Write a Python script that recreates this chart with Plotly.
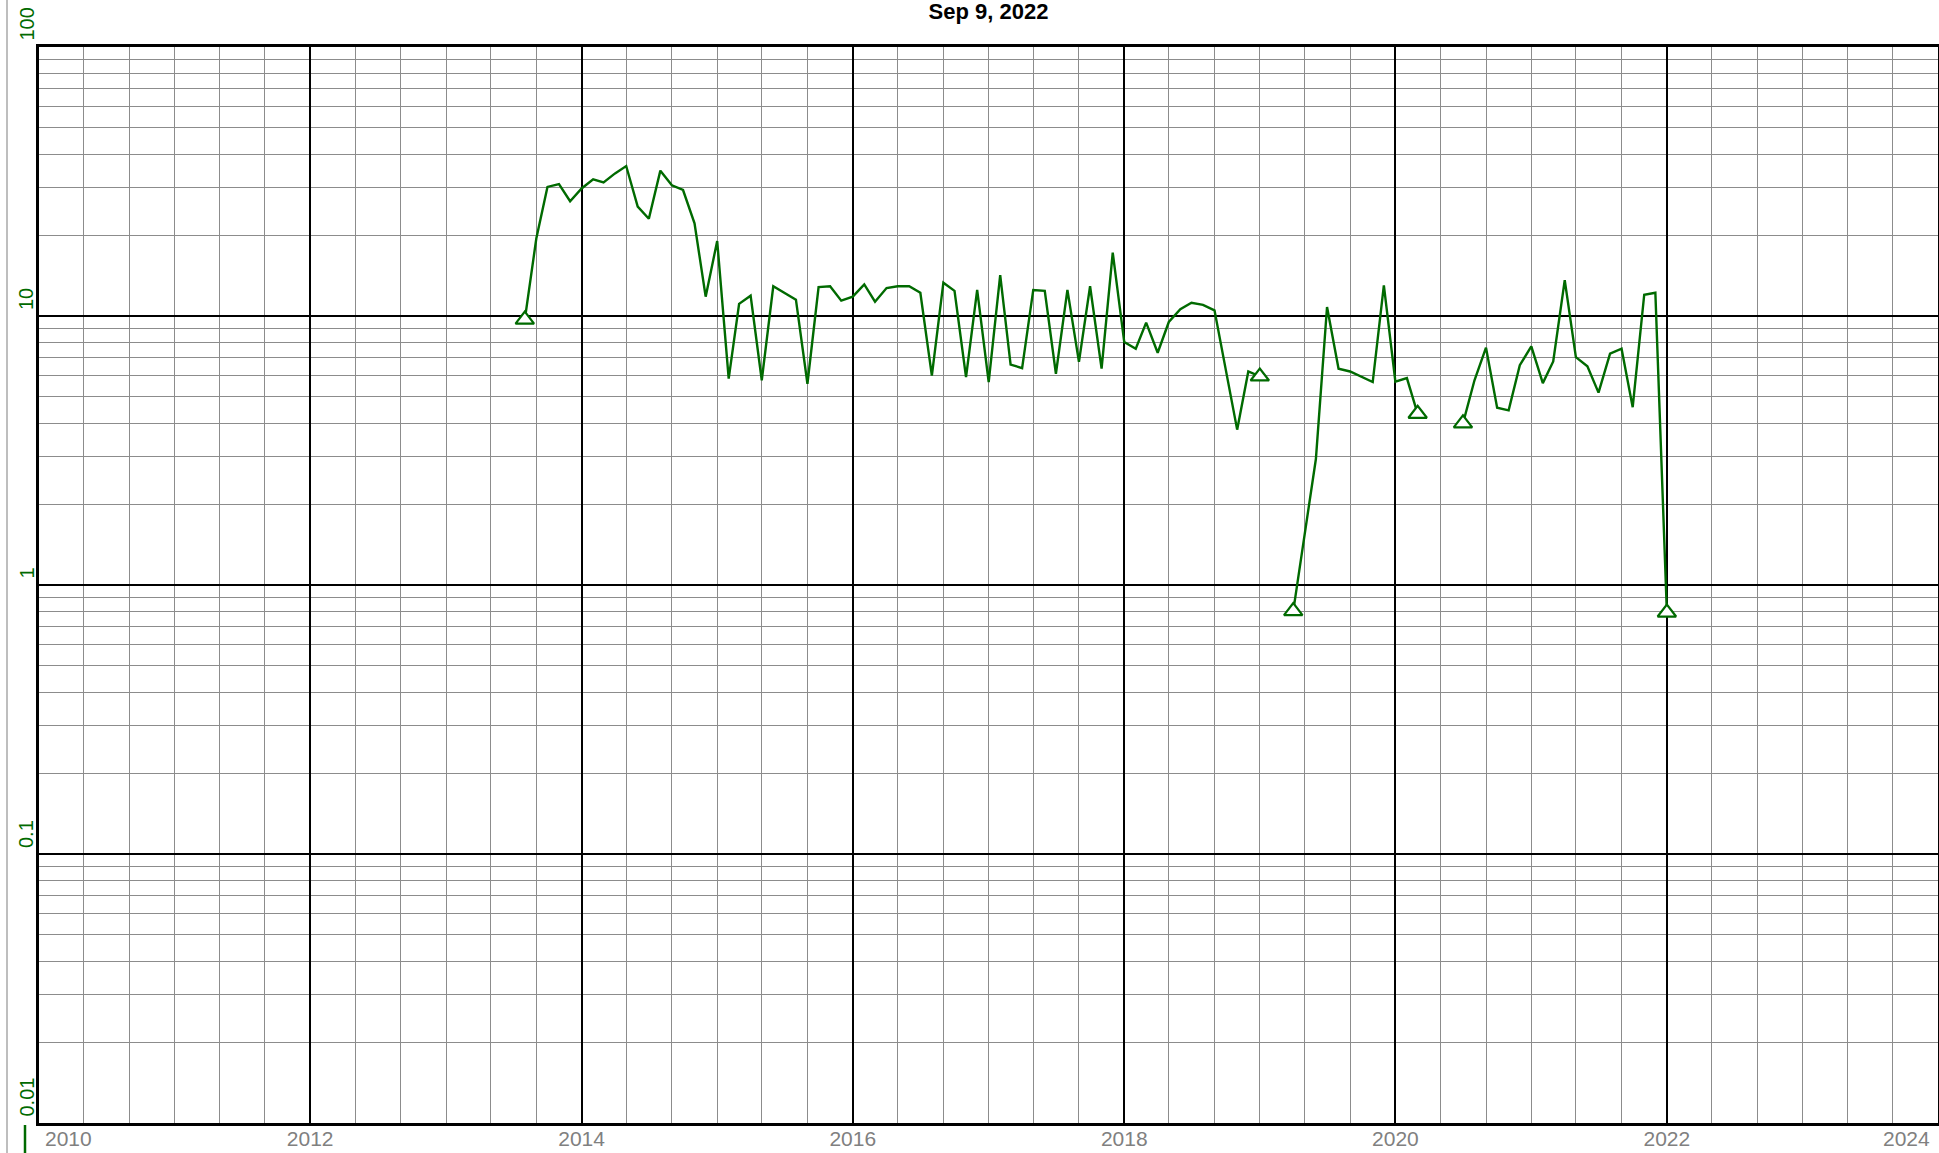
import math
import pandas as pd
import plotly.graph_objects as go

# ---- data ----
start_month = "2013-08-01"
end_month = "2022-01-01"
values = [
    # 2013 Aug-Dec
    9.7, 19.4, 30.2, 30.9, 26.7,
    # 2014
    29.8, 32.2, 31.4, 33.9, 36.1, 25.5, 23.0, 34.7, 30.6, 29.4, 22.1, 11.8,
    # 2015
    19.0, 5.85, 11.1, 11.9, 5.77, 12.9, 12.2, 11.5, 5.6, 12.8, 12.9, 11.4,
    # 2016
    11.8, 13.1, 11.3, 12.7, 12.9, 12.9, 12.2, 6.0, 13.3, 12.4, 5.93, 12.5,
    # 2017
    5.68, 14.2, 6.6, 6.4, 12.5, 12.4, 6.1, 12.5, 6.75, 12.9, 6.37, 17.2,
    # 2018
    8.0, 7.56, 9.45, 7.3, 9.5, 10.6, 11.2, 11.0, 10.5, 6.3, 3.78, 6.22,
    # 2019
    5.96, None, None, 0.80, 1.55, 2.94, 10.8, 6.37, 6.22, 5.93, 5.68, 13.0,
    # 2020
    5.7, 5.88, 4.33, None, None, None, 3.99, 5.77, 7.63, 4.56, 4.46, 6.56,
    # 2021
    7.71, 5.63, 6.78, 13.6, 7.03, 6.5, 5.19, 7.24, 7.56, 4.58, 12.0, 12.2,
    # 2022
    0.79,
]
flagged_months = ["2013-08-01", "2019-01-01", "2019-04-01", "2020-03-01", "2020-07-01", "2022-01-01"]

title_text = "Sep 9, 2022"
x_tick_years = [2010, 2012, 2014, 2016, 2018, 2020, 2022, 2024]
y_major = [0.01, 0.1, 1, 10, 100]
y_major_labels = ["0.01", "0.1", "1", "10", "100"]

# ---- build ----
dates = pd.date_range(start_month, end_month, freq="MS")
series = pd.Series(values, index=dates)
flag_idx = pd.to_datetime(flagged_months)
flag_vals = series.loc[flag_idx]

GREEN = "#006a00"
GRAY_TXT = "#808080"
FONT = "Liberation Sans, Arial"

fig = go.Figure()
fig.add_trace(go.Scatter(
    x=series.index, y=series.values, mode="lines",
    line=dict(color=GREEN, width=2.4), connectgaps=False,
    showlegend=False, hoverinfo="x+y"))
fig.add_trace(go.Scatter(
    x=flag_vals.index, y=flag_vals.values, mode="markers",
    marker=dict(symbol="triangle-up", size=16, color="white",
                line=dict(color=GREEN, width=2.2)),
    showlegend=False))

# x tick labels: inner ones as axis tick labels, edge ones kept inside the figure
x_tickvals = [f"{y}-01-01" for y in x_tick_years]
x_ticktext = [str(y) for y in x_tick_years]
edge_x = [(x_tickvals[0], x_ticktext[0], "left", 4),
          (x_tickvals[-1], x_ticktext[-1], "right", -6)]
x_ticktext[0] = ""
x_ticktext[-1] = ""

y_minor = []
for d in [0.01, 0.1, 1, 10]:
    for k in range(2, 10):
        y_minor.append(round(k * d, 4))

L, R, T, B = 39, 1, 47, 30
W, H = 1939, 1153
pw, ph = W - L - R, H - T - B

def px_x(p):
    return (p - L) / pw

def px_y(p):
    return (H - B - p) / ph

annotations = []
# rotated y labels starting just above each decade line
for v, t in zip(y_major, y_major_labels):
    annotations.append(dict(
        text=t, xref="paper", x=0, xanchor="center", xshift=-13,
        yref="y", y=math.log10(v), yanchor="bottom", yshift=4,
        textangle=-90, showarrow=False,
        font=dict(family=FONT, size=20, color=GREEN)))
for xv, t, anchor, shift in edge_x:
    annotations.append(dict(
        text=t, xref="x", x=xv, xanchor=anchor, xshift=shift,
        yref="paper", y=0, yanchor="middle", yshift=-15,
        showarrow=False, font=dict(family=FONT, size=21, color=GRAY_TXT)))

fig.update_layout(
    template="none",
    width=W, height=H,
    margin=dict(l=L, r=R, t=T, b=B, pad=0, autoexpand=False),
    paper_bgcolor="white", plot_bgcolor="white",
    title=dict(text="<b>" + title_text + "</b>", x=0.5, xanchor="center",
               xref="paper", y=0.997, yanchor="top", yref="container",
               font=dict(family=FONT, size=22, color="black"),
               automargin=False),
    font=dict(family=FONT),
    showlegend=False,
    annotations=annotations,
    shapes=[
        dict(type="line", xref="paper", yref="paper",
             x0=px_x(7), x1=px_x(7), y0=px_y(H), y1=px_y(0),
             line=dict(color="#a8a8a8", width=1.5)),
        dict(type="line", xref="paper", yref="paper",
             x0=px_x(25), x1=px_x(25), y0=px_y(1125), y1=px_y(H),
             line=dict(color=GREEN, width=2.5)),
    ],
)

fig.update_xaxes(
    type="date", range=["2010-01-01", "2024-01-01"], automargin=False,
    tickmode="array", tickvals=x_tickvals, ticktext=x_ticktext,
    ticks="", ticklabelstandoff=-5,
    tickfont=dict(family=FONT, size=21, color=GRAY_TXT),
    showgrid=True, gridcolor="black", gridwidth=2,
    minor=dict(dtick="M4", tick0="2010-01-01", showgrid=True,
               gridcolor="#8c8c8c", gridwidth=1, ticks=""),
    showline=True, linecolor="black", linewidth=2.5, mirror=True,
    zeroline=False,
)
fig.update_yaxes(
    type="log", range=[-2, 2], automargin=False,
    tickmode="array", tickvals=y_major, showticklabels=False, ticks="",
    showgrid=True, gridcolor="black", gridwidth=2,
    minor=dict(tickmode="array", tickvals=y_minor, showgrid=True,
               gridcolor="#8c8c8c", gridwidth=1, ticks=""),
    showline=True, linecolor="black", linewidth=2.5, mirror=True,
    zeroline=False,
)

fig.write_html(
    "out.html",
    config={"displayModeBar": False},
    post_script="document.documentElement.style.margin='0';"
                "document.body.style.margin='0';"
                "document.body.style.overflow='hidden';",
)
